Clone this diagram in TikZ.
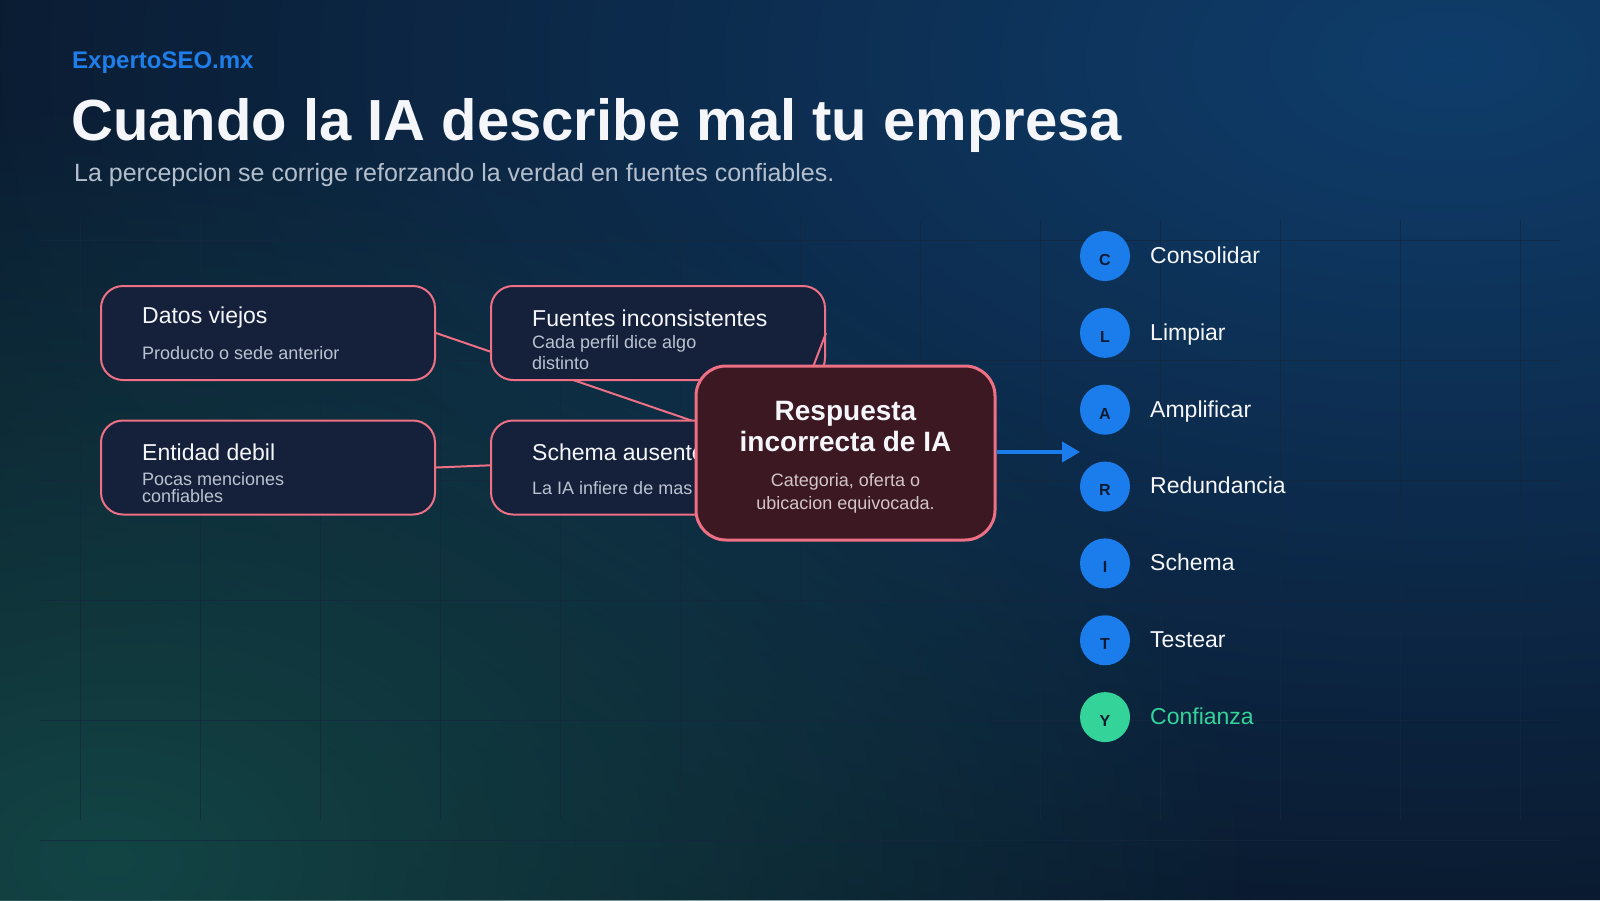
\documentclass[tikz,border=0pt]{standalone}
\usepackage{fontspec}
\setmainfont{Liberation Sans}
\usetikzlibrary{fadings,arrows.meta}
\pgfdeclarelayer{back}
\pgfdeclarelayer{lines}
\pgfsetlayers{back,lines,main}

\definecolor{bgbase}{HTML}{0A1526}
\definecolor{glowblue}{HTML}{0F3D6B}
\definecolor{glowteal}{HTML}{134545}
\definecolor{gridc}{HTML}{15273E}
\definecolor{brandblue}{HTML}{1E7FEA}
\definecolor{subgray}{HTML}{B4BFCD}
\definecolor{boxfill}{HTML}{15213A}
\definecolor{pinkline}{HTML}{EE7084}
\definecolor{darkred}{HTML}{3B1822}
\definecolor{cengray}{HTML}{D3C5CA}
\definecolor{circblue}{HTML}{1B7DEB}
\definecolor{circgreen}{HTML}{34D399}
\definecolor{letterc}{HTML}{0B1B33}
\definecolor{whitetxt}{HTML}{F4F6FA}
\definecolor{boxsub}{HTML}{B9C3D1}

\tikzfading[name=glowfade, inner color=transparent!0, outer color=transparent!100]

\begin{document}
\begin{tikzpicture}[x=1pt,y=-1pt,
  gridline/.style={draw=gridc, line width=1, draw opacity=0.75},
  card/.style={draw=pinkline, line width=2, fill=boxfill, rounded corners=22,
    minimum width=334, minimum height=94, inner sep=0},
  centerbox/.style={draw=pinkline, line width=3, fill=darkred, rounded corners=30,
    minimum width=299, minimum height=174, inner sep=0},
  cardtitle/.style={anchor=base west, inner sep=0, text=whitetxt, font=\fontsize{23}{27}\selectfont},
  cardsub/.style={anchor=base west, inner sep=0, text=boxsub, font=\fontsize{18}{21}\selectfont},
  centitle/.style={anchor=base, inner sep=0, text=whitetxt, font=\bfseries\fontsize{28}{33}\selectfont},
  censub/.style={anchor=base, inner sep=0, text=cengray, font=\fontsize{18}{21}\selectfont},
  conn/.style={draw=pinkline, line width=2},
  stepcirc/.style={circle, inner sep=0, minimum size=50},
  stepletter/.style={anchor=base, inner sep=0, text=letterc, font=\bfseries\fontsize{16}{18}\selectfont},
  steplabel/.style={anchor=base west, inner sep=0, font=\fontsize{23}{27}\selectfont},
  bluearrow/.style={draw=circblue, line width=4, -{Triangle[length=18pt, width=20pt]}}
]
\useasboundingbox (0,0) rectangle (1600,900);

\begin{pgfonlayer}{back}
\fill[bgbase] (0,0) rectangle (1600,900);
\begin{scope}
\clip (0,0) rectangle (1600,900);
\fill[glowblue, path fading=glowfade] (1450,60) ellipse (1800 and 1000);
\fill[glowteal, path fading=glowfade] (110,860) ellipse (1150 and 760);
\end{scope}
\foreach \x in {80,200,...,1520} \draw[gridline] (\x,220) -- (\x,820);
\foreach \y in {240,360,...,840} \draw[gridline] (40,\y) -- (1560,\y);
\end{pgfonlayer}

% header
\node[anchor=base west, inner sep=0, text=brandblue, font=\bfseries\fontsize{24}{29}\selectfont] (brand) at (72,68) {ExpertoSEO.mx};
\node[anchor=base west, inner sep=0, text=whitetxt, font=\bfseries\fontsize{58}{66}\selectfont] (title) at (71,140) {Cuando la IA describe mal tu empresa};
\node[anchor=base west, inner sep=0, text=subgray, font=\fontsize{25}{30}\selectfont] (subtitle) at (74,181.5) {La percepcion se corrige reforzando la verdad en fuentes confiables.};

% cause boxes
\node[card] (b1) at (268,333) {};
\node[cardtitle] (b1t) at (142,323) {Datos viejos};
\node[cardsub] (b1s) at (142,359.3) {Producto o sede anterior};

\node[card] (b2) at (658,333) {};
\node[cardtitle] (b2t) at (532,326) {Fuentes inconsistentes};
\node[cardsub] (b2s) at (532,348.7) {Cada perfil dice algo};
\node[cardsub] (b2s2) at (532,369.3) {distinto};

\node[card] (b3) at (268,467.5) {};
\node[cardtitle] (b3t) at (142,460.3) {Entidad debil};
\node[cardsub] (b3s) at (142,485.5) {Pocas menciones};
\node[cardsub] (b3s2) at (142,502.3) {confiables};

\node[card] (b4) at (658,467.5) {};
\node[cardtitle] (b4t) at (532,460.3) {Schema ausente};
\node[cardsub] (b4s) at (532,494.3) {La IA infiere de mas};

% connectors
\coordinate (e1) at (760,444);
\coordinate (e2) at (790,427);
\coordinate (e3) at (720,456);
\begin{pgfonlayer}{lines}
\draw[conn] (b1.east) -- (e1);
\draw[conn] (b3.east) -- (e3);
\end{pgfonlayer}
\draw[conn] (b2.east) -- (e2);

% center box
\node[centerbox] (cen) at (845.5,453) {};
\node[centitle] (cent1) at (845.5,420.7) {Respuesta};
\node[centitle] (cent2) at (845.5,451.7) {incorrecta de IA};
\node[censub] (cens1) at (845.5,486.7) {Categoria, oferta o};
\node[censub] (cens2) at (845.5,509.5) {ubicacion equivocada.};

% steps
\foreach \i/\l/\t/\cc/\tc in {0/C/Consolidar/circblue/whitetxt, 1/L/Limpiar/circblue/whitetxt,
  2/A/Amplificar/circblue/whitetxt, 3/R/Redundancia/circblue/whitetxt,
  4/I/Schema/circblue/whitetxt, 5/T/Testear/circblue/whitetxt,
  6/Y/Confianza/circgreen/circgreen}{
  \pgfmathsetmacro{\cy}{256+76.85*\i}
  \node[stepcirc, fill=\cc] (c\i) at (1105,\cy) {};
  \node[stepletter] (cl\i) at (1105,\cy+9.3) {\l};
  \node[steplabel, text=\tc] (t\i) at (1150,\cy+7.3) {\t};
}

% arrow
\coordinate (arrowtip) at (1080,452);
\draw[bluearrow] (cen.east |- arrowtip) -- (arrowtip);
\end{tikzpicture}
\end{document}
